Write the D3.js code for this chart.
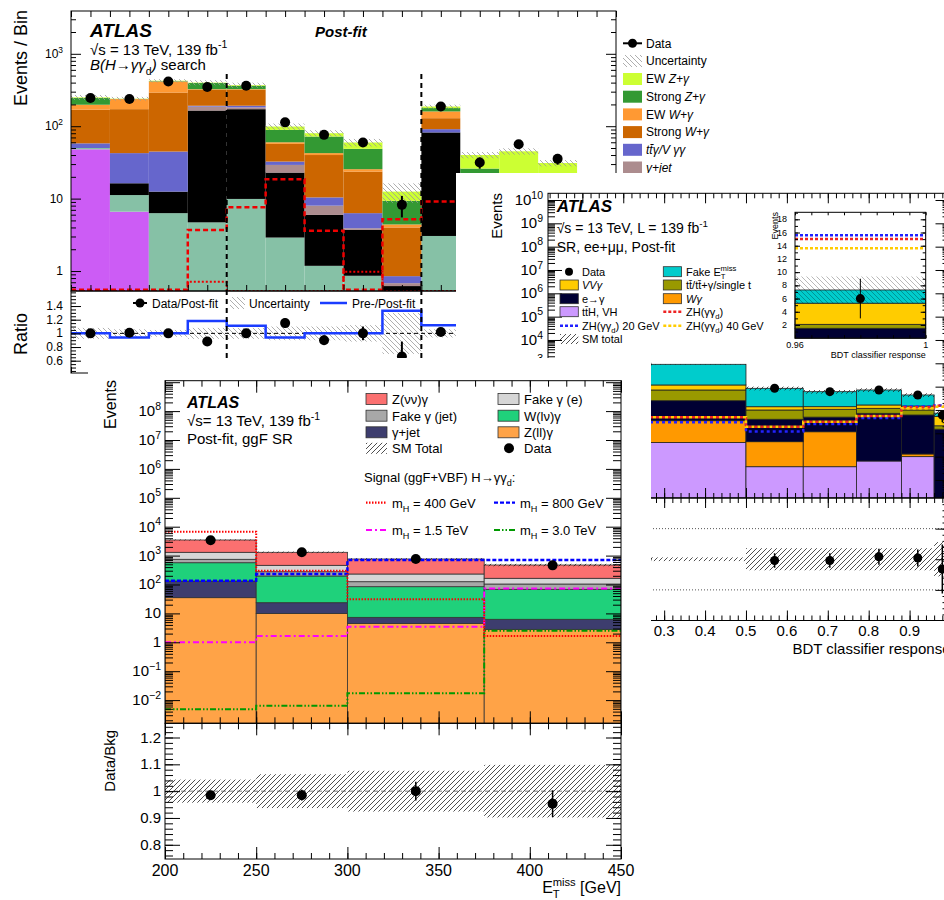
<!DOCTYPE html>
<html>
<head>
<meta charset="utf-8">
<script src="https://cdn.jsdelivr.net/npm/d3@7"></script>
<style>
body { margin: 0; background: #fff; }
svg { display: block; font-family: "Liberation Sans", Arial, Helvetica, sans-serif; }
</style>
</head>
<body>
<script>
// ---------- plot A (top left): B(H->yy_d) search, 14 bins ----------
var zJetsA    = [48, 6.6, 0, 0, 0, 0, 0, 0, 0, 0, 0, 0, 0, 0];
var fakeJetA  = [2, 4.6, 6.3, 4.7, 9.9, 2.9, 1.18, 0.86, 0, 3.05, 1.5, 1, 0.8, 0];
var eGammaA   = [0, 5.1, 6.2, 160, 162, 20, 4.77, 2.84, 0.62, 79, 6.5, 4, 3, 0];
var gJetA     = [0, 0, 0, 22, 10, 6.3, 2.05, 0.2, 0.06, 0, 0.5, 0.3, 0.3, 0];
var ttgA      = [8, 26.2, 32.2, 5, 10, 3.3, 2.4, 2.4, 0.17, 9, 1, 0.7, 0.6, 0];
var strongWA  = [111, 129.5, 247, 126, 126, 24.5, 29.6, 17.3, 3.15, 38, 4.5, 4, 3, 0];
var ewWA      = [29, 65, 123, 7, 7, 3, 2.5, 1.9, 0.4, 31, 1, 1, 0.8, 0];
var strongZA  = [47, 1, 5, 70, 37, 29, 29.5, 23.2, 4.9, 18, 11, 7, 5, 0];
var ewZA      = [5, 2, 5, 5, 8, 10, 8, 10.9, 3.2, 9, 14, 27, 17.5, 0];
var dataA     = [245, 237, 415, 347, 362, 113, 76, 59.6, 8.2, 187, 31.5, 56.5, 35.4, null];
var dataErrA  = [16, 15, 20, 19, 19, 11, 9, 8, 2.7, 14, 5.6, 7.5, 6, 0];
var uncA      = [0.08, 0.06, 0.05, 0.08, 0.08, 0.1, 0.1, 0.12, 0.3, 0.06, 0.1, 0.1, 0.1, 0];
var sigDashA  = [0.55, 0.55, 0.55, 3.7, 7.6, 18.5, 3.6, 0.55, 5.2, 9.1, 9, 6, 4, 0.55];
var sigDotA   = [0.3, 0.3, 0.3, 0.71, 0.3, 0.3, 0.3, 0.98, 0.3, 0.3, 0.3, 0.3, 0.3, 0.3];
var ratioA    = [1.0, 1.01, 1.0, 0.88, 1.0, 1.15, 0.9, 1.0, 0.66, 1.02, 0.8, 1.25, 1.14, null];
var ratioErrA = [0.03, 0.03, 0.03, 0.04, 0.03, 0.07, 0.07, 0.1, 0.22, 0.05, 0.15, 0.15, 0.15, 0];
var prePostA  = [1.0, 0.94, 1.0, 1.18, 1.11, 0.94, 1.0, 1.0, 1.33, 1.12, 1.05, 1.0, 1.0, 1.0];

// ---------- plot B (middle right): BDT classifier response ----------
var edgesB    = [0.016, 0.5, 0.64, 0.77, 0.88, 0.96, 1.0];
var ttHB      = [0.40, 0.037, 0.037, 0.065, 0.1, 0];
var wgB       = [3.07, 0.40, 1.13, 0, 0.03, 0];
var eGammaB   = [21.5, 3.56, 3.77, 7.13, 5.97, 1.5];
var topB      = [47, 6, 5.8, 4.6, 3.9, 0.6];
var vvgB      = [46, 3.8, 3.1, 4.6, 4.8, 3.2];
var fakeMetB  = [788, 71, 47, 55.6, 29.2, 2.0];
var dataB     = [905, 85, 61, 72, 44, 6];
var dataErrB  = [30, 9, 8, 8.5, 6.6, 3];
var sigZHB    = [4.9, 1.9, 3.1, 5.5, 13, 15.0];
var sig20B    = [3, 1.2, 2.5, 4.5, 14, 15.6];
var sig40B    = [4.9, 1.9, 3.1, 5.5, 12, 13.6];
var ratioB    = [1.0, 0.98, 0.98, 1.04, 1.02, 0.84];
var ratioErrB = [0.03, 0.12, 0.12, 0.13, 0.14, 0.4];
var uncB      = [0.03, 0.18, 0.18, 0.18, 0.18, 0.28];

// ---------- plot C (bottom): E_T^miss, ggF SR ----------
var edgesC    = [200, 250, 300, 375, 450];
var zllC      = [35, 10, 4.5, 2.8];
var gJetC     = [97, 13.5, 2.8, 3.45];
var wlnC      = [435, 173.5, 76.7, 61.75];
var fakeJetC  = [178, 80, 41, 36];
var fakeEC    = [555, 184, 106, 60];
var znnC      = [2170, 839, 531, 309];
var dataC     = [3400, 1300, 760, 460];
var dataErrC  = [58, 36, 28, 21];
var ratioC    = [0.985, 0.985, 1.0, 0.953];
var ratioErrC = [0.017, 0.02, 0.035, 0.05];
var uncC      = [0.043, 0.063, 0.076, 0.098];
var sig400C   = [6700, 300, 31, 1.65];
var sig800C   = [135, 230, 700, 700];
var sig1500C  = [1.0, 1.65, 3.45, 73];
var sig3000C  = [0.0048, 0.0064, 0.0172, 2.5];

var svg = d3.select("body").append("svg").attr("width", 944).attr("height", 900);
var defs = svg.append("defs");

function hatch(id, dir, color, step) {
  var s = step;
  var d = dir === "\\" ? "M0,0L" + s + "," + s + "M-1," + (s - 1) + "L1," + (s + 1) + "M" + (s - 1) + ",-1L" + (s + 1) + ",1"
                       : "M0," + s + "L" + s + ",0M-1,1L1,-1M" + (s - 1) + "," + (s + 1) + "L" + (s + 1) + "," + (s - 1);
  defs.append("pattern").attr("id", id).attr("patternUnits", "userSpaceOnUse")
    .attr("width", s).attr("height", s)
    .append("path").attr("d", d).attr("stroke", color).attr("stroke-width", 0.8);
}
hatch("hGrey", "\\", "#9a9a9a", 5);
hatch("hInset", "\\", "rgba(0,0,0,0.35)", 5);
hatch("hBlack", "/", "#222", 5);

function clip(id, x, y, w, h) {
  defs.append("clipPath").attr("id", id).append("rect").attr("x", x).attr("y", y).attr("width", w).attr("height", h);
}

// rich text: parts are strings or {t, sup, sub, it, b, dx}
function rich(t, size, parts) {
  var cur = 0;
  [].concat(parts).forEach(function (p) {
    if (typeof p === "string") p = {t: p};
    var off = p.sup ? -0.42 * size : (p.sub ? 0.3 * size : 0);
    var s = t.append("tspan").text(p.t).attr("dy", off - cur)
      .attr("font-size", (p.sup || p.sub) ? size * 0.7 : size);
    if (p.it) s.attr("font-style", "italic");
    if (p.b) s.attr("font-weight", "bold");
    if (p.dx) s.attr("dx", p.dx);
    cur = off;
  });
  return t;
}
function label(g, x, y, size, parts, anchor) {
  var t = g.append("text").attr("x", x).attr("y", y).attr("font-size", size)
    .attr("text-anchor", anchor || "start").attr("fill", "#000");
  return rich(t, size, parts);
}
function vlabel(g, x, y, size, parts) {
  var t = g.append("text").attr("transform", "translate(" + x + "," + y + ") rotate(-90)")
    .attr("font-size", size).attr("text-anchor", "end");
  return rich(t, size, parts);
}
function decade(e) {
  if (e === 0) return ["1"];
  if (e === 1) return ["10"];
  return ["10", {t: e < 0 ? "\u2212" + (-e) : String(e), sup: true}];
}

function tickAxis(g, orient, scale, vals, len, pos) {
  var ax = orient === "left" ? d3.axisLeft(scale) : orient === "right" ? d3.axisRight(scale)
         : orient === "top" ? d3.axisTop(scale) : d3.axisBottom(scale);
  ax.tickValues(vals).tickSizeInner(-len).tickSizeOuter(0).tickFormat("");
  var tr = (orient === "left" || orient === "right") ? "translate(" + pos + ",0)" : "translate(0," + pos + ")";
  var a = g.append("g").attr("transform", tr).call(ax);
  a.select(".domain").remove();
  a.selectAll("line").attr("stroke", "#000").attr("stroke-width", 1);
}
function logTicks(dom) {
  var major = [], minor = [];
  for (var e = Math.floor(Math.log10(dom[0])); e <= Math.ceil(Math.log10(dom[1])); e++) {
    var b = Math.pow(10, e);
    if (b >= dom[0] && b <= dom[1]) major.push(b);
    for (var k = 2; k < 10; k++) if (k * b >= dom[0] && k * b <= dom[1]) minor.push(k * b);
  }
  return {major: major, minor: minor};
}
function steps(a, b, s) {
  var out = [];
  for (var v = a; v <= b + 1e-9; v += s) out.push(+v.toFixed(6));
  return out;
}
function frame(g, x0, y0, x1, y1) {
  g.append("rect").attr("x", x0).attr("y", y0).attr("width", x1 - x0).attr("height", y1 - y0)
    .attr("fill", "none").attr("stroke", "#000").attr("stroke-width", 1);
}

function drawStack(g, comps, edges, x, y, outline) {
  var rows = edges.slice(0, -1).map(function (e, i) {
    var r = {i: i};
    comps.forEach(function (c, k) { r["c" + k] = c.vals[i]; });
    return r;
  });
  var series = d3.stack().keys(comps.map(function (c, k) { return "c" + k; }))(rows);
  var lo = y.domain()[0];
  series.forEach(function (s, k) {
    g.append("g").selectAll("rect")
      .data(s.filter(function (d) { return d[1] > lo && d[1] > d[0]; }))
      .join("rect")
      .attr("x", function (d) { return x(edges[d.data.i]); })
      .attr("width", function (d) { return x(edges[d.data.i + 1]) - x(edges[d.data.i]); })
      .attr("y", function (d) { return y(d[1]); })
      .attr("height", function (d) { return y(Math.max(d[0], lo)) - y(d[1]); })
      .attr("fill", comps[k].color)
      .attr("stroke", outline || "none").attr("stroke-width", 0.8);
  });
  return series[series.length - 1].map(function (d) { return d[1]; });
}
function band(g, centre, unc, edges, x, y, pat) {
  var lo = y.domain()[0];
  var d = centre.map(function (c, i) { return {i: i, c: c, u: unc[i]}; }).filter(function (d) { return d.c > 0 && d.u > 0; });
  g.append("g").selectAll("rect").data(d).join("rect")
    .attr("x", function (d) { return x(edges[d.i]); })
    .attr("width", function (d) { return x(edges[d.i + 1]) - x(edges[d.i]); })
    .attr("y", function (d) { return y(d.c * (1 + d.u)); })
    .attr("height", function (d) { return y(Math.max(d.c * (1 - d.u), lo)) - y(d.c * (1 + d.u)); })
    .attr("fill", "url(#" + pat + ")");
}
function stepLine(g, vals, edges, x, y, color, dash, width, offset) {
  var lo = y.domain()[0], hi = y.domain()[1];
  var pts = edges.map(function (e, i) {
    var v = vals[Math.min(i, vals.length - 1)];
    return [x(e), y(Math.min(Math.max(v, lo), hi))];
  });
  g.append("path").datum(pts).attr("d", d3.line().curve(d3.curveStepAfter))
    .attr("fill", "none").attr("stroke", color).attr("stroke-width", width)
    .attr("stroke-dasharray", dash).attr("stroke-dashoffset", offset || 0);
}
function points(g, xs, vals, errs, x, y, r, w) {
  var lo = y.domain()[0];
  var pts = xs.map(function (xv, i) { return {x: xv, v: vals[i], e: errs[i]}; })
    .filter(function (d) { return d.v != null; });
  g.append("g").selectAll("line").data(pts).join("line")
    .attr("x1", function (d) { return x(d.x); }).attr("x2", function (d) { return x(d.x); })
    .attr("y1", function (d) { return y(d.v + d.e); })
    .attr("y2", function (d) { return y(Math.max(d.v - d.e, lo)); })
    .attr("stroke", "#000").attr("stroke-width", w);
  g.append("g").selectAll("circle").data(pts).join("circle")
    .attr("cx", function (d) { return x(d.x); }).attr("cy", function (d) { return y(d.v); })
    .attr("r", r).attr("fill", "#000");
}
function centres(edges) {
  return edges.slice(0, -1).map(function (e, i) { return (e + edges[i + 1]) / 2; });
}
function ones(n) { return d3.range(n).map(function () { return 1; }); }

// =================== plot A ===================
(function () {
  var g = svg.append("g");
  var edges = d3.range(15);
  var x = d3.scaleLinear().domain([0, 14]).range([71, 616]);
  var y = d3.scaleLog().domain([0.53, 3900]).range([291, 11]);
  var r = d3.scaleLinear().domain([0.42, 1.62]).range([373, 291]);
  clip("clipA", 71, 11, 545, 280);
  clip("clipAr", 71, 291, 545, 82);

  var main = g.append("g").attr("clip-path", "url(#clipA)");
  var tot = drawStack(main, [
    {vals: zJetsA, color: "#cc5cf5"}, {vals: fakeJetA, color: "#86c1a6"},
    {vals: eGammaA, color: "#000000"}, {vals: gJetA, color: "#ac8c8e"},
    {vals: ttgA, color: "#6666cc"}, {vals: strongWA, color: "#cc6600"},
    {vals: ewWA, color: "#ff9933"}, {vals: strongZA, color: "#339933"},
    {vals: ewZA, color: "#ccff33"}], edges, x, y, null);
  band(main, tot, uncA, edges, x, y, "hGrey");
  stepLine(main, sigDotA, edges, x, y, "#ee0000", "2,2", 2);
  stepLine(main, sigDashA, edges, x, y, "#ee0000", "5,3", 2.5);
  points(g, centres(edges), dataA, dataErrA, x, y, 5, 2);

  // ratio
  var rat = g.append("g").attr("clip-path", "url(#clipAr)");
  band(rat, ones(14), uncA, edges, x, r, "hGrey");
  rat.append("line").attr("x1", 71).attr("x2", 616).attr("y1", r(1)).attr("y2", r(1))
    .attr("stroke", "#000").attr("stroke-dasharray", "4,3");
  stepLine(rat, prePostA, edges, x, r, "#1a3cff", null, 2.5);
  points(rat, centres(edges), ratioA, ratioErrA, x, r, 5, 2);

  [4, 9].forEach(function (e) {
    g.append("line").attr("x1", x(e)).attr("x2", x(e)).attr("y1", 74).attr("y2", 358)
      .attr("stroke", "#000").attr("stroke-width", 2).attr("stroke-dasharray", "5,4");
  });

  // axes
  var lt = logTicks(y.domain());
  tickAxis(g, "left", y, lt.major, 10, 71); tickAxis(g, "left", y, lt.minor, 5, 71);
  tickAxis(g, "right", y, lt.major, 10, 616); tickAxis(g, "right", y, lt.minor, 5, 616);
  var xt = steps(0, 14, 0.5);
  tickAxis(g, "top", x, xt, 6, 11); tickAxis(g, "bottom", x, xt, 6, 291);
  tickAxis(g, "bottom", x, xt, 6, 373);
  tickAxis(g, "left", r, steps(0.6, 1.4, 0.2), 10, 71); tickAxis(g, "left", r, steps(0.45, 1.6, 0.05), 5, 71);
  tickAxis(g, "right", r, steps(0.6, 1.4, 0.2), 10, 616); tickAxis(g, "right", r, steps(0.45, 1.6, 0.05), 5, 616);
  frame(g, 71, 11, 616, 291); frame(g, 71, 291, 616, 373);
  lt.major.forEach(function (v) { label(g, 63, y(v) + 4, 12, decade(Math.round(Math.log10(v))), "end"); });
  [0.6, 0.8, 1, 1.2, 1.4].forEach(function (v) { label(g, 63, r(v) + 4, 12, String(v), "end"); });
  vlabel(g, 27, 10, 18, "Events / Bin");
  vlabel(g, 27, 313, 18, "Ratio");

  label(g, 90, 37, 19, [{t: "ATLAS", b: true, it: true}]);
  label(g, 90, 54.5, 15, ["\u221As = 13 TeV, 139 fb", {t: "-1", sup: true}]);
  label(g, 90, 70, 15, [{t: "B(H\u2192\u03b3\u03b3", it: true}, {t: "d", sub: true}, {t: ")", it: true}, " search"]);
  label(g, 315, 37, 15, [{t: "Post-fit", b: true, it: true}]);

  // ratio legend
  g.append("line").attr("x1", 133).attr("x2", 147).attr("y1", 303).attr("y2", 303).attr("stroke", "#000").attr("stroke-width", 2);
  g.append("circle").attr("cx", 140).attr("cy", 303).attr("r", 4.5);
  label(g, 152, 307.5, 12, "Data/Post-fit");
  g.append("rect").attr("x", 230).attr("y", 297).attr("width", 15).attr("height", 12).attr("fill", "url(#hGrey)");
  label(g, 249, 307.5, 12, "Uncertainty");
  g.append("line").attr("x1", 320).attr("x2", 347).attr("y1", 303).attr("y2", 303).attr("stroke", "#1a3cff").attr("stroke-width", 2.5);
  label(g, 352, 307.5, 12, "Pre-/Post-fit");

  // legend
  var leg = [
    {n: ["EW  ", {t: "Z+\u03b3", it: true}], c: "#ccff33"},
    {n: ["Strong  ", {t: "Z+\u03b3", it: true}], c: "#339933"},
    {n: ["EW  ", {t: "W+\u03b3", it: true}], c: "#ff9933"},
    {n: ["Strong  ", {t: "W+\u03b3", it: true}], c: "#cc6600"},
    {n: [{t: "tt\u0304\u03b3/V \u03b3\u03b3", it: true}], c: "#6666cc"},
    {n: [{t: "\u03b3+jet", it: true}], c: "#ac8c8e"}
  ];
  g.append("line").attr("x1", 623).attr("x2", 642).attr("y1", 43.3).attr("y2", 43.3).attr("stroke", "#000").attr("stroke-width", 2);
  g.append("circle").attr("cx", 632.5).attr("cy", 43.3).attr("r", 4.5);
  label(g, 646, 47.5, 12, "Data");
  g.append("rect").attr("x", 623).attr("y", 55).attr("width", 19).attr("height", 12).attr("fill", "url(#hGrey)");
  label(g, 646, 65.2, 12, "Uncertainty");
  leg.forEach(function (d, i) {
    var cy = 79 + i * 17.7;
    g.append("rect").attr("x", 623).attr("y", cy - 6).attr("width", 19).attr("height", 12).attr("fill", d.c);
    label(g, 646, cy + 4.2, 12, d.n);
  });
})();

// =================== plot B ===================
(function () {
  var g = svg.append("g");
  g.append("rect").attr("x", 456).attr("y", 173).attr("width", 488).attr("height", 490).attr("fill", "#fff");
  var x = d3.scaleLinear().domain([0.016, 1]).range([548, 950.5]);
  var y = d3.scaleLog().domain([Math.pow(10, -2.773), Math.pow(10, 10.287)]).range([498, 193.3]);
  var r = d3.scaleLinear().domain([0, 2]).range([620.5, 498]);
  clip("clipB", 548, 193.3, 402.5, 304.7);
  clip("clipBr", 548, 498, 402.5, 122.5);

  var main = g.append("g").attr("clip-path", "url(#clipB)");
  var comps = [
    {vals: ttHB, color: "#cc99ff"}, {vals: wgB, color: "#ff9900"},
    {vals: eGammaB, color: "#000033"}, {vals: topB, color: "#999900"},
    {vals: vvgB, color: "#ffcc00"}, {vals: fakeMetB, color: "#00cccc"}];
  var tot = drawStack(main, comps, edgesB, x, y, "#222");
  band(main, tot, uncB, edgesB, x, y, "hBlack");
  stepLine(main, sig20B, edgesB, x, y, "#2222ff", "3,3", 2.5);
  stepLine(main, sigZHB, edgesB, x, y, "#ee2222", "3,3", 2.5);
  stepLine(main, sig40B, edgesB, x, y, "#ffcc00", "3,3", 2.5, 3);
  points(g, centres(edgesB), dataB, dataErrB, x, y, 4.5, 1.5);

  var rat = g.append("g").attr("clip-path", "url(#clipBr)");
  [0.5, 1.5].forEach(function (v) {
    rat.append("line").attr("x1", 548).attr("x2", 950.5).attr("y1", r(v)).attr("y2", r(v))
      .attr("stroke", "#555").attr("stroke-dasharray", "1,2");
  });
  band(rat, ones(6), uncB, edgesB, x, r, "hBlack");
  points(rat, centres(edgesB), ratioB, ratioErrB, x, r, 4.5, 1.5);

  var lt = logTicks(y.domain());
  tickAxis(g, "left", y, lt.major, 14, 548); tickAxis(g, "left", y, lt.minor, 7, 548);
  tickAxis(g, "right", y, lt.major, 15, 950.5); tickAxis(g, "right", y, lt.minor, 8, 950.5);
  var maj = steps(0.1, 1, 0.1), mnr = steps(0.02, 1, 0.02);
  tickAxis(g, "top", x, maj, 10, 193.3); tickAxis(g, "top", x, mnr, 5, 193.3);
  tickAxis(g, "bottom", x, maj, 10, 498); tickAxis(g, "bottom", x, mnr, 5, 498);
  tickAxis(g, "top", x, maj, 10, 498); tickAxis(g, "top", x, mnr, 5, 498);
  tickAxis(g, "bottom", x, maj, 10, 620.5); tickAxis(g, "bottom", x, mnr, 5, 620.5);
  tickAxis(g, "right", r, [0.5, 1, 1.5], 15, 950.5); tickAxis(g, "right", r, steps(0.1, 1.9, 0.1), 8, 950.5);
  frame(g, 548, 193.3, 950.5, 498); frame(g, 548, 498, 950.5, 620.5);
  // only the labels that stay in view (the lower ones sit under the bottom plot)
  lt.major.filter(function (v) { return y(v) < 370; }).forEach(function (v) {
    label(g, 543, y(v) + 5, 15, decade(Math.round(Math.log10(v))), "end");
  });
  maj.filter(function (v) { return v > 0.25 && v < 0.95; }).forEach(function (v) {
    label(g, x(v), 636, 15, v.toFixed(1), "middle");
  });
  label(g, 950.5, 654, 15, "BDT classifier response", "end");
  vlabel(g, 502, 193, 15, "Events");

  label(g, 556.7, 212.3, 17, [{t: "ATLAS", b: true, it: true}]);
  label(g, 556.7, 232.7, 14, ["\u221As = 13 TeV, L = 139 fb", {t: "-1", sup: true}]);
  label(g, 556.7, 251.7, 14, "SR, ee+\u03bc\u03bc, Post-fit");

  // legend
  var rows = [271.7, 285, 298.7, 311.7, 325.7, 339];
  function box(x0, cy, c) {
    g.append("rect").attr("x", x0).attr("y", cy - 5).attr("width", 18.3).attr("height", 10)
      .attr("fill", c).attr("stroke", "#333").attr("stroke-width", 0.8);
  }
  function dline(x0, cy, c) {
    g.append("line").attr("x1", x0).attr("x2", x0 + 18.3).attr("y1", cy).attr("y2", cy)
      .attr("stroke", c).attr("stroke-width", 2.5).attr("stroke-dasharray", "3,2");
  }
  g.append("circle").attr("cx", 569).attr("cy", rows[0]).attr("r", 4);
  label(g, 582, rows[0] + 4, 11, "Data");
  box(560, rows[1], "#ffcc00"); label(g, 582, rows[1] + 4, 11, [{t: "VV\u03b3", it: true}]);
  box(560, rows[2], "#000033"); label(g, 582, rows[2] + 4, 11, "e\u2192\u03b3");
  box(560, rows[3], "#cc99ff"); label(g, 582, rows[3] + 4, 11, "tt\u0304H, VH");
  dline(560, rows[4], "#2222ff"); label(g, 582, rows[4] + 4, 11, ["ZH(\u03b3\u03b3", {t: "d", sub: true}, ") 20 GeV"]);
  g.append("rect").attr("x", 560).attr("y", rows[5] - 5).attr("width", 18.3).attr("height", 10).attr("fill", "url(#hBlack)");
  label(g, 582, rows[5] + 4, 11, "SM total");
  box(663.3, rows[0], "#00cccc"); label(g, 686, rows[0] + 4, 11, ["Fake E", {t: "T", sub: true}, {t: "miss", sup: true, dx: -5}]);
  box(663.3, rows[1], "#999900"); label(g, 686, rows[1] + 4, 11, "tt\u0304/tt\u0304+\u03b3/single t");
  box(663.3, rows[2], "#ff9900"); label(g, 686, rows[2] + 4, 11, [{t: "W\u03b3", it: true}]);
  dline(663.3, rows[3], "#ee2222"); label(g, 686, rows[3] + 4, 11, ["ZH(\u03b3\u03b3", {t: "d", sub: true}, ")"]);
  dline(663.3, rows[4], "#ffcc00"); label(g, 686, rows[4] + 4, 11, ["ZH(\u03b3\u03b3", {t: "d", sub: true}, ") 40 GeV"]);

  // inset: last bin, linear scale
  var xi = d3.scaleLinear().domain([0.96, 1]).range([795, 925.7]);
  var yi = d3.scaleLinear().domain([0, 19.06]).range([338.2, 212.3]);
  var ins = g.append("g");
  ins.append("rect").attr("x", 795).attr("y", 212.3).attr("width", 130.7).attr("height", 125.9).attr("fill", "#fff");
  var last = comps.map(function (c) { return {vals: [c.vals[5]], color: c.color}; });
  var ltot = drawStack(ins, last, [0.96, 1], xi, yi, "#222");
  band(ins, ltot, [uncB[5]], [0.96, 1], xi, yi, "hInset");
  [[sig20B, "#2222ff"], [sigZHB, "#ee2222"], [sig40B, "#ffcc00"]].forEach(function (s) {
    stepLine(ins, [s[0][5]], [0.96, 1], xi, yi, s[1], "3,2", 2.5);
  });
  points(ins, [0.98], [dataB[5]], [dataErrB[5]], xi, yi, 4.5, 1);
  tickAxis(ins, "left", yi, steps(2, 18, 2), 5, 795); tickAxis(ins, "left", yi, steps(1, 19, 1), 3, 795);
  tickAxis(ins, "right", yi, steps(2, 18, 2), 5, 925.7); tickAxis(ins, "right", yi, steps(1, 19, 1), 3, 925.7);
  tickAxis(ins, "top", xi, steps(0.96, 1, 0.005), 3, 212.3); tickAxis(ins, "bottom", xi, steps(0.96, 1, 0.005), 3, 338.2);
  frame(ins, 795, 212.3, 925.7, 338.2);
  steps(2, 18, 2).forEach(function (v) { label(ins, 787, yi(v) + 3, 9, String(v), "end"); });
  label(ins, 795, 347.5, 9, "0.96", "middle");
  label(ins, 925.7, 347.5, 9, "1", "middle");
  label(ins, 925.7, 358, 9, "BDT classifier response", "end");
  vlabel(ins, 778, 212, 9, "Events");
})();

// =================== plot C ===================
(function () {
  var g = svg.append("g");
  g.append("rect").attr("x", 88).attr("y", 358).attr("width", 563).attr("height", 542).attr("fill", "#fff");
  var x = d3.scaleLinear().domain([200, 450]).range([165, 621]);
  var y = d3.scaleLog().domain([Math.pow(10, -2.803), Math.pow(10, 9.052)]).range([723.3, 380.7]);
  var r = d3.scaleLinear().domain([0.747, 1.253]).range([859, 723.3]);
  clip("clipC", 165, 380.7, 456, 342.6);
  clip("clipCr", 165, 723.3, 456, 135.7);

  var main = g.append("g").attr("clip-path", "url(#clipC)");
  var tot = drawStack(main, [
    {vals: zllC, color: "#ffa347"}, {vals: gJetC, color: "#3d3d6e"},
    {vals: wlnC, color: "#1fd17b"}, {vals: fakeJetC, color: "#a8a8a8"},
    {vals: fakeEC, color: "#d6d6d6"}, {vals: znnC, color: "#fb7070"}], edgesC, x, y, "#333");
  band(main, tot, uncC, edgesC, x, y, "hBlack");
  stepLine(main, sig3000C, edgesC, x, y, "#009900", "6,2,1.5,2,1.5,2", 2);
  stepLine(main, sig1500C, edgesC, x, y, "#ff00ff", "6,3,2,3", 2);
  stepLine(main, sig800C, edgesC, x, y, "#0000ff", "4,2", 2.5);
  stepLine(main, sig400C, edgesC, x, y, "#ff0000", "1.5,1.5", 2);
  points(g, centres(edgesC), dataC, dataErrC, x, y, 5, 1.5);

  var rat = g.append("g").attr("clip-path", "url(#clipCr)");
  band(rat, ones(4), uncC, edgesC, x, r, "hBlack");
  rat.append("line").attr("x1", 165).attr("x2", 621).attr("y1", r(1)).attr("y2", r(1))
    .attr("stroke", "#555").attr("stroke-width", 0.8).attr("stroke-dasharray", "5,3");
  points(rat, centres(edgesC), ratioC, ratioErrC, x, r, 5, 1.5);

  var lt = logTicks(y.domain());
  tickAxis(g, "left", y, lt.major, 15, 165); tickAxis(g, "left", y, lt.minor, 8, 165);
  tickAxis(g, "right", y, lt.major, 15, 621); tickAxis(g, "right", y, lt.minor, 8, 621);
  var maj = steps(200, 450, 50), mnr = steps(200, 450, 10);
  [380.7, 723.3, 859].forEach(function (p, i) {
    var o = i === 0 ? "top" : "bottom";
    tickAxis(g, o, x, maj, 12, p); tickAxis(g, o, x, mnr, 6, p);
  });
  tickAxis(g, "top", x, maj, 12, 723.3); tickAxis(g, "top", x, mnr, 6, 723.3);
  tickAxis(g, "left", r, steps(0.8, 1.2, 0.1), 15, 165); tickAxis(g, "left", r, steps(0.76, 1.24, 0.02), 8, 165);
  tickAxis(g, "right", r, steps(0.8, 1.2, 0.1), 15, 621); tickAxis(g, "right", r, steps(0.76, 1.24, 0.02), 8, 621);
  frame(g, 165, 380.7, 621, 723.3); frame(g, 165, 723.3, 621, 859);
  lt.major.filter(function (v) { return y(v) > 390; }).forEach(function (v) {
    label(g, 161, y(v) + 5, 15, decade(Math.round(Math.log10(v))), "end");
  });
  [0.8, 0.9, 1, 1.1, 1.2].forEach(function (v) { label(g, 161, r(v) + 5, 15, String(v), "end"); });
  maj.forEach(function (v) { label(g, x(v), 876, 16, String(v), "middle"); });
  label(g, 621, 893, 16, ["E", {t: "T", sub: true}, {t: "miss", sup: true, dx: -7}, " [GeV]"], "end");
  vlabel(g, 116, 380, 16, "Events");
  vlabel(g, 115, 730, 15, "Data/Bkg");

  label(g, 187, 408.3, 16, [{t: "ATLAS", b: true, it: true}]);
  label(g, 187, 426, 15, ["\u221As= 13 TeV, 139 fb", {t: "-1", sup: true}]);
  label(g, 187, 444, 15, "Post-fit, ggF SR");

  // legend
  var rows = [399, 415.7, 432.3, 448.3];
  function box(x0, cy, c) {
    g.append("rect").attr("x", x0).attr("y", cy - 5.5).attr("width", 21).attr("height", 11)
      .attr("fill", c).attr("stroke", "#333").attr("stroke-width", 0.8);
  }
  box(366, rows[0], "#fb7070"); label(g, 392, rows[0] + 5, 13, "Z(\u03bd\u03bd)\u03b3");
  box(366, rows[1], "#a8a8a8"); label(g, 392, rows[1] + 5, 13, "Fake \u03b3 (jet)");
  box(366, rows[2], "#3d3d6e"); label(g, 392, rows[2] + 5, 13, "\u03b3+jet");
  g.append("rect").attr("x", 366).attr("y", rows[3] - 5.5).attr("width", 21).attr("height", 11).attr("fill", "url(#hBlack)");
  label(g, 392, rows[3] + 5, 13, "SM Total");
  box(498, rows[0], "#d6d6d6"); label(g, 524, rows[0] + 5, 13, "Fake \u03b3 (e)");
  box(498, rows[1], "#1fd17b"); label(g, 524, rows[1] + 5, 13, "W(l\u03bd)\u03b3");
  box(498, rows[2], "#ffa347"); label(g, 524, rows[2] + 5, 13, "Z(ll)\u03b3");
  g.append("circle").attr("cx", 509).attr("cy", rows[3]).attr("r", 5);
  label(g, 524, rows[3] + 5, 13, "Data");

  label(g, 364, 481.7, 13, ["Signal (ggF+VBF) H\u2192\u03b3\u03b3", {t: "d", sub: true}, ":"]);
  var sig = [
    {x0: 366, cy: 502.7, c: "#ff0000", d: "1.5,1.5", n: "400 GeV"},
    {x0: 494, cy: 502.7, c: "#0000ff", d: "4,2", n: "800 GeV"},
    {x0: 366, cy: 530, c: "#ff00ff", d: "6,3,2,3", n: "1.5 TeV"},
    {x0: 494, cy: 530, c: "#009900", d: "6,2,1.5,2,1.5,2", n: "3.0 TeV"}
  ];
  sig.forEach(function (s) {
    g.append("line").attr("x1", s.x0).attr("x2", s.x0 + 21).attr("y1", s.cy).attr("y2", s.cy)
      .attr("stroke", s.c).attr("stroke-width", 2.2).attr("stroke-dasharray", s.d);
    label(g, s.x0 + 26, s.cy + 5, 13, ["m", {t: "H", sub: true}, " = " + s.n]);
  });
})();
</script>
</body>
</html>
